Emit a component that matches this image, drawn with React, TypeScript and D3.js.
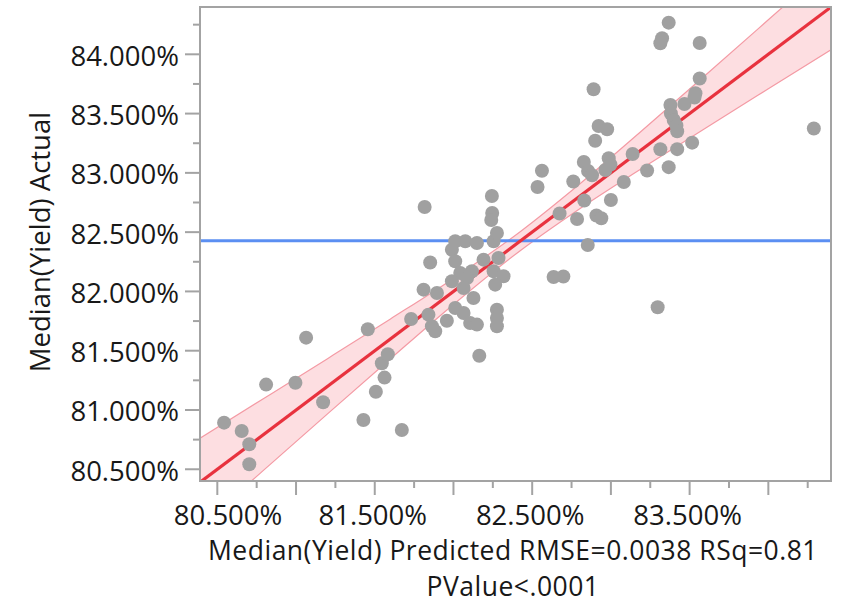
import React from "react";
import * as d3 from "d3";

// Predicted vs Actual (values in %)
const predicted = [
  80.543, 80.655, 80.703, 80.703, 80.81, 80.996, 81.064, 81.172, 81.428, 81.456,
  81.507, 81.545, 81.583, 81.562, 81.672, 81.731, 81.817, 81.852, 81.81, 81.895,
  81.841, 81.863, 81.884, 81.958, 81.99, 82.011, 82.075, 82.149, 82.255, 82.011,
  82.191, 82.286, 82.043, 82.117, 82.086, 81.99, 82.255, 82.318, 82.265, 82.064,
  82.127, 82.011, 82.064, 82.276, 82.276, 82.276, 82.106, 82.149, 82.164, 82.276,
  82.244, 82.246, 82.24, 82.534, 82.562, 82.636, 82.698, 82.674, 82.785, 82.761,
  82.853, 82.831, 82.828, 82.855, 82.88, 82.908, 82.939, 82.89, 82.922, 82.976,
  82.9, 82.986, 82.997, 82.965, 83.0, 83.082, 83.138, 83.23, 83.314, 83.367,
  83.421, 83.516, 83.367, 83.325, 83.314, 83.564, 83.564, 83.537, 83.531, 83.467,
  83.378, 83.381, 83.399, 83.416, 83.421, 84.289, 83.297,
];
const actual = [
  80.893, 80.823, 80.711, 80.542, 81.214, 81.23, 81.61, 81.065, 80.916, 81.681,
  81.154, 81.394, 81.47, 81.273, 80.831, 81.768, 82.712, 82.244, 82.015, 81.987,
  81.804, 81.706, 81.664, 81.753, 82.352, 82.423, 82.423, 82.409, 82.423, 82.254,
  82.268, 82.282, 82.156, 82.17, 82.113, 82.086, 82.17, 82.128, 82.057, 82.029,
  81.945, 81.86, 81.818, 81.846, 81.776, 81.706, 81.734, 81.72, 81.458, 82.493,
  82.805, 82.662, 82.603, 82.881, 83.018, 82.122, 82.126, 82.657, 82.611, 82.927,
  82.392, 82.767, 83.092, 83.016, 82.98, 82.641, 82.617, 83.705, 83.395, 83.368,
  83.271, 83.123, 83.071, 83.024, 82.771, 82.923, 83.159, 83.02, 83.199, 83.048,
  83.2, 83.255, 84.267, 84.135, 84.093, 84.095, 83.796, 83.671, 83.636, 83.581,
  83.572, 83.501, 83.446, 83.4, 83.351, 83.374, 81.866,
];

const meanActual = 82.428;
const fitX = [80.39, 84.398];
const fitY = [80.39, 84.398];

const bandX = [80.39, 80.8, 81.2, 81.6, 82.0, 82.428, 82.8, 83.2, 83.6, 84.0, 84.398];
const bandLower = [80.018, 80.499, 80.967, 81.432, 81.89, 82.348, 82.696, 83.041, 83.377, 83.709, 84.038];
const bandUpper = [80.762, 81.101, 81.433, 81.768, 82.11, 82.508, 82.904, 83.359, 83.823, 84.291, 84.758];

const xDomain = [80.39, 84.398];
const yDomain = [80.401, 84.399];
const majorTicks = [80.5, 81, 81.5, 82, 82.5, 83, 83.5, 84];
const minorTicks = [80.75, 81.25, 81.75, 82.25, 82.75, 83.25, 83.75, 84.25];
const yLabelTicks = [80.5, 81, 81.5, 82, 82.5, 83, 83.5, 84];
const xLabelTicks = [80.5, 81.5, 82.5, 83.5];

const yTitle = "Median(Yield) Actual";
const xTitle1 = "Median(Yield) Predicted RMSE=0.0038 RSq=0.81";
const xTitle2 = "PValue<.0001";

const W = 845;
const H = 604;
const left = 200;
const right = 831;
const top = 7;
const bottom = 481;
const FONT = "'Open Sans', 'Noto Sans', sans-serif";
const FS = 27.5;
const FS_T = 26.5;
const AX = "#a3a3a3";
const TXT = "#181818";

export default function App() {
  const x = d3.scaleLinear().domain(xDomain).range([left, right]);
  const y = d3.scaleLinear().domain(yDomain).range([bottom, top]);
  const fmt = (v: number) => d3.format(".3f")(v) + "%";

  const band = d3
    .area<number>()
    .x((_, i) => x(bandX[i]))
    .y0((_, i) => y(bandLower[i]))
    .y1((_, i) => y(bandUpper[i]))
    .curve(d3.curveMonotoneX)(bandX);
  const lowerLine = d3
    .line<number>()
    .x((_, i) => x(bandX[i]))
    .y((_, i) => y(bandLower[i]))
    .curve(d3.curveMonotoneX)(bandX);
  const upperLine = d3
    .line<number>()
    .x((_, i) => x(bandX[i]))
    .y((_, i) => y(bandUpper[i]))
    .curve(d3.curveMonotoneX)(bandX);

  const pts = predicted.map((p, i) => ({ p, a: actual[i] }));

  return (
    <svg
      width={W}
      height={H}
      style={{ position: "absolute", left: 0, top: 0, display: "block", background: "#fff" }}
    >
      <defs>
        <clipPath id="plotClip">
          <rect x={left} y={top} width={right - left} height={bottom - top} />
        </clipPath>
      </defs>
      <rect x={0} y={0} width={W} height={H} fill="#fff" />

      <g clipPath="url(#plotClip)">
        <path d={band || ""} fill="rgba(245,60,80,0.17)" />
        <path d={lowerLine || ""} fill="none" stroke="#f49aa4" strokeWidth={1.2} />
        <path d={upperLine || ""} fill="none" stroke="#f49aa4" strokeWidth={1.2} />
        <line
          x1={left}
          x2={right}
          y1={y(meanActual)}
          y2={y(meanActual)}
          stroke="#5b8ff2"
          strokeWidth={3}
        />
        <line
          x1={x(fitX[0])}
          y1={y(fitY[0])}
          x2={x(fitX[1])}
          y2={y(fitY[1])}
          stroke="#e8323e"
          strokeWidth={3.2}
        />
        {pts.map((d, i) => (
          <circle key={i} cx={x(d.p)} cy={y(d.a)} r={7} fill="#a0a0a0" />
        ))}
      </g>

      {/* frame */}
      <rect
        x={left}
        y={top}
        width={right - left}
        height={bottom - top}
        fill="none"
        stroke={AX}
        strokeWidth={2}
      />

      {/* y ticks */}
      {majorTicks.map((v) => (
        <line key={"ym" + v} x1={185} x2={left} y1={y(v)} y2={y(v)} stroke={AX} strokeWidth={2} />
      ))}
      {minorTicks.map((v) => (
        <line key={"yn" + v} x1={193} x2={left} y1={y(v)} y2={y(v)} stroke={AX} strokeWidth={2} />
      ))}
      {yLabelTicks.map((v) => (
        <text
          key={"yl" + v}
          x={179}
          y={y(v) + 11.5}
          textAnchor="end"
          fontFamily={FONT}
          fontSize={FS}
          fill={TXT}
        >
          {fmt(v)}
        </text>
      ))}

      {/* x ticks */}
      {majorTicks.map((v) => (
        <line key={"xm" + v} x1={x(v)} x2={x(v)} y1={bottom} y2={495} stroke={AX} strokeWidth={2} />
      ))}
      {minorTicks.map((v) => (
        <line key={"xn" + v} x1={x(v)} x2={x(v)} y1={bottom} y2={488} stroke={AX} strokeWidth={2} />
      ))}
      {xLabelTicks.map((v) => (
        <text
          key={"xl" + v}
          x={Math.max(x(v) - 2, 228)}
          y={525}
          textAnchor="middle"
          fontFamily={FONT}
          fontSize={FS}
          fill={TXT}
        >
          {fmt(v)}
        </text>
      ))}

      {/* titles */}
      <text
        transform={`translate(50, ${(top + bottom) / 2 - 2}) rotate(-90)`}
        textAnchor="middle"
        fontFamily={FONT}
        fontSize={FS}
        fill={TXT}
      >
        {yTitle}
      </text>
      <text
        x={513}
        y={560}
        textAnchor="middle"
        fontFamily={FONT}
        fontSize={FS_T}
        letterSpacing={0.5}
        fill={TXT}
      >
        {xTitle1}
      </text>
      <text
        x={513}
        y={596}
        textAnchor="middle"
        fontFamily={FONT}
        fontSize={FS_T}
        letterSpacing={0.5}
        fill={TXT}
      >
        {xTitle2}
      </text>
    </svg>
  );
}
